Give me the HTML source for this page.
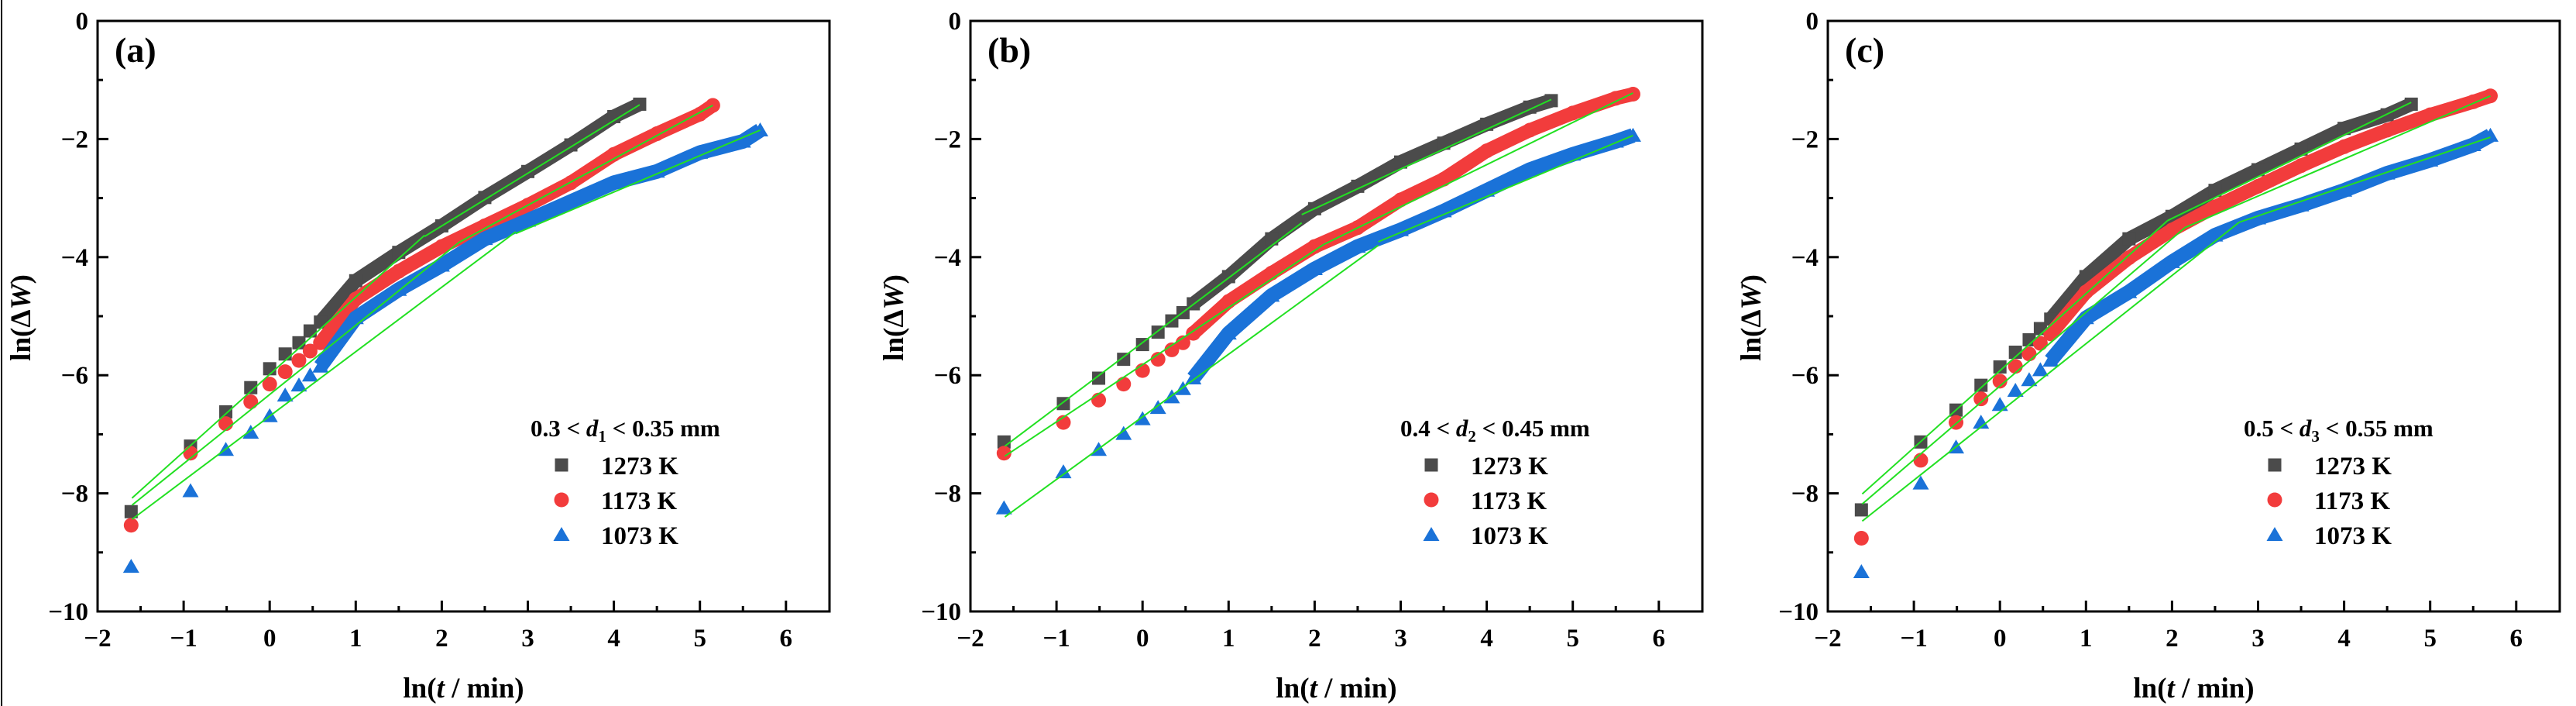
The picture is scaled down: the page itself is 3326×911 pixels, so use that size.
<!DOCTYPE html>
<html><head><meta charset="utf-8">
<style>
html,body{margin:0;padding:0;background:#fff;}
svg{display:block;font-family:"Liberation Serif",serif;font-weight:bold;}
</style></head>
<body>
<svg id="fig" width="3326" height="911" viewBox="0 0 3326 911" xmlns="http://www.w3.org/2000/svg">
<rect x="0" y="0" width="3326" height="911" fill="#fff"/>
<line x1="2" y1="0" x2="2" y2="911" stroke="#000" stroke-width="2"/>
</svg>
<script>
// ---- data ----
const panelLabels = ["(a)", "(b)", "(c)"];
const legendTitlesPre = ["0.3 < ", "0.4 < ", "0.5 < "];
const legendSubs = ["1", "2", "3"];
const legendTitlesPost = [" < 0.35 mm", " < 0.45 mm", " < 0.55 mm"];
const seriesNames = ["1273 K", "1173 K", "1073 K"];
const xTicks = [-2, -1, 0, 1, 2, 3, 4, 5, 6];
const yTicks = [0, -2, -4, -6, -8, -10];

// panel a
const a_x = [-1.61,-0.92,-0.51,-0.22,0,0.18,0.34,0.47,0.59,1,1.5,2,2.5,3,3.5,4,4.3];
const a_y1273 = [-8.31,-7.2,-6.62,-6.21,-5.89,-5.64,-5.45,-5.25,-5.1,-4.4,-3.92,-3.47,-2.99,-2.55,-2.1,-1.62,-1.41];
const a_x1173 = [-1.61,-0.92,-0.51,-0.22,0,0.18,0.34,0.47,0.59,1,1.5,2,2.5,3,3.5,4,4.5,5,5.15];
const a_y1173 = [-8.54,-7.32,-6.82,-6.45,-6.15,-5.94,-5.75,-5.59,-5.45,-4.71,-4.24,-3.82,-3.47,-3.12,-2.74,-2.26,-1.91,-1.58,-1.43];
const a_x1073 = [-1.61,-0.92,-0.51,-0.22,0,0.18,0.34,0.47,0.59,1,1.5,2,2.5,3,3.5,4,4.5,5,5.5,5.7];
const a_y1073 = [-9.24,-7.96,-7.26,-6.97,-6.69,-6.34,-6.17,-6.0,-5.85,-5.03,-4.55,-4.14,-3.69,-3.38,-3.06,-2.74,-2.55,-2.23,-2.04,-1.85];

// panel b
const b_x1273 = [-1.61,-0.92,-0.51,-0.22,0,0.18,0.34,0.47,0.59,1,1.5,2,2.5,3,3.5,4,4.5,4.75];
const b_y1273 = [-7.13,-6.48,-6.05,-5.73,-5.48,-5.27,-5.08,-4.94,-4.79,-4.33,-3.69,-3.18,-2.8,-2.39,-2.07,-1.75,-1.46,-1.35];
const b_x1173 = [-1.61,-0.92,-0.51,-0.22,0,0.18,0.34,0.47,0.59,1,1.5,2,2.5,3,3.5,4,4.5,5,5.5,5.7];
const b_y1173 = [-7.32,-6.8,-6.42,-6.15,-5.92,-5.73,-5.57,-5.45,-5.29,-4.75,-4.27,-3.82,-3.5,-3.03,-2.68,-2.2,-1.85,-1.56,-1.31,-1.24];
const b_x1073 = [-1.61,-0.92,-0.51,-0.22,0,0.18,0.34,0.47,0.59,1,1.5,2,2.5,3,3.5,4,4.5,5,5.5,5.7];
const b_y1073 = [-8.25,-7.64,-7.26,-6.99,-6.74,-6.55,-6.37,-6.23,-6.05,-5.29,-4.65,-4.2,-3.82,-3.54,-3.22,-2.87,-2.52,-2.26,-2.04,-1.94];

// panel c
const c_x1273 = [-1.61,-0.92,-0.51,-0.22,0,0.18,0.34,0.47,0.59,1,1.5,2,2.5,3,3.5,4,4.5,4.78];
const c_y1273 = [-8.28,-7.13,-6.59,-6.17,-5.86,-5.61,-5.4,-5.21,-5.05,-4.33,-3.69,-3.31,-2.87,-2.52,-2.17,-1.82,-1.59,-1.41];
const c_x1173 = [-1.61,-0.92,-0.51,-0.22,0,0.18,0.34,0.47,0.59,1,1.5,2,2.5,3,3.5,4,4.5,5,5.5,5.7];
const c_y1173 = [-8.76,-7.44,-6.8,-6.4,-6.1,-5.85,-5.64,-5.46,-5.3,-4.59,-4.01,-3.54,-3.15,-2.8,-2.45,-2.13,-1.85,-1.59,-1.37,-1.27];
const c_x1073 = [-1.61,-0.92,-0.51,-0.22,0,0.18,0.34,0.47,0.59,1,1.5,2,2.5,3,3.5,4,4.5,5,5.5,5.7];
const c_y1073 = [-9.33,-7.83,-7.22,-6.8,-6.5,-6.26,-6.08,-5.91,-5.75,-5.03,-4.59,-4.08,-3.63,-3.34,-3.12,-2.87,-2.58,-2.36,-2.1,-1.94];

// fit lines: [x1,y1,x2,y2] per segment
const a_fit1273 = [[-1.6,-8.08,1.8,-3.63],[1.8,-3.65,4.3,-1.42]];
const a_fit1173 = [[-1.6,-8.2,2.2,-3.75],[2.2,-3.75,5.15,-1.43]];
const a_fit1073 = [[-1.6,-8.44,2.86,-3.57],[2.86,-3.6,5.7,-1.85]];
const b_fit1273 = [[-1.6,-7.2,1.85,-3.42],[1.85,-3.28,4.75,-1.33]];
const b_fit1173 = [[-1.6,-7.37,2.1,-3.79],[2.1,-3.79,5.7,-1.22]];
const b_fit1073 = [[-1.6,-8.4,2.74,-3.8],[2.74,-3.74,5.7,-1.94]];
const c_fit1273 = [[-1.6,-8.01,1.95,-3.38],[1.95,-3.38,4.78,-1.38]];
const c_fit1173 = [[-1.6,-8.18,2.15,-3.5],[2.15,-3.5,5.7,-1.27]];
const c_fit1073 = [[-1.6,-8.47,2.78,-3.41],[2.78,-3.41,5.7,-1.97]];

// ---- layout ----
const panelLeft = [126, 1253, 2360];
const legendShift = [0, -4, -22];
const TOP = 27, BOTTOM = 789, WIDTH = 945;
const XPU = 111.1, YPU = (BOTTOM - TOP) / 10;
const BAND_START = 8;
const colors = ["#4b4b4b", "#f23c3c", "#1a72d8"];
const shapes = ["square", "circle", "triangle"];
const NS = "http://www.w3.org/2000/svg";
const svg = document.getElementById("fig");

function mk(tag, attrs, parent) {
  const e = document.createElementNS(NS, tag);
  for (const k in attrs) e.setAttribute(k, attrs[k]);
  (parent || svg).appendChild(e);
  return e;
}
function marker(shape, cx, cy, color, parent) {
  let e;
  if (shape === "square") e = mk("rect", {x: cx - 8.5, y: cy - 8.5, width: 17, height: 17, fill: color}, parent);
  else if (shape === "circle") e = mk("circle", {cx: cx, cy: cy, r: 9.5, fill: color}, parent);
  else e = mk("polygon", {points: `${cx},${cy - 10} ${cx + 10.5},${cy + 8} ${cx - 10.5},${cy + 8}`, fill: color}, parent);
  return e;
}

const panelData = [
  [[a_x, a_y1273, a_fit1273], [a_x1173, a_y1173, a_fit1173], [a_x1073, a_y1073, a_fit1073]],
  [[b_x1273, b_y1273, b_fit1273], [b_x1173, b_y1173, b_fit1173], [b_x1073, b_y1073, b_fit1073]],
  [[c_x1273, c_y1273, c_fit1273], [c_x1173, c_y1173, c_fit1173], [c_x1073, c_y1073, c_fit1073]]
];

panelData.forEach((series, p) => {
  const L = panelLeft[p];
  const sx = v => L + (v + 2) * XPU;
  const sy = v => TOP - v * YPU;
  const g = mk("g", {});
  
  

  series.forEach((s, i) => {
    const [xs, ys, fit] = s;
    const sg = mk("g", {}, g);
    
    
    let d = "";
    xs.forEach((x, k) => { if (k >= BAND_START) d += (d ? "L" : "M") + sx(x).toFixed(1) + "," + sy(ys[k]).toFixed(1); });
    const band = mk("path", {d: d, fill: "none", stroke: colors[i], "stroke-width": shapes[i] === "triangle" ? 19 : 18, "stroke-linejoin": "round", "stroke-linecap": shapes[i] === "circle" ? "round" : "butt"}, sg);
    
    
    xs.forEach((x, k) => {
      const m = marker(shapes[i], sx(x), sy(ys[k]), colors[i], sg);
      
      
    });
  });
  series.forEach((s, i) => {
    s[2].forEach(seg => {
      const ln = mk("line", {x1: sx(seg[0]), y1: sy(seg[1]), x2: sx(seg[2]), y2: sy(seg[3]), stroke: "#22e022", "stroke-width": 2}, g);
      
      
    });
  });

  const fr = mk("rect", {x: L, y: TOP, width: WIDTH, height: BOTTOM - TOP, fill: "none", stroke: "#000", "stroke-width": 3}, g);
  
  

  for (let v = -2; v <= 6.01; v += 0.5) {
    const major = Math.abs(v - Math.round(v)) < 1e-6;
    mk("line", {x1: sx(v), y1: BOTTOM, x2: sx(v), y2: BOTTOM - (major ? 14 : 7), stroke: "#000", "stroke-width": 3}, g);
  }
  xTicks.forEach(v => {
    const t = mk("text", {x: sx(v), y: 834, "font-size": 33, "text-anchor": "middle"}, g);
    t.textContent = (v < 0 ? "\u2212" : "") + Math.abs(v);
    
    
  });
  for (let v = 0; v >= -10; v -= 1) {
    const major = v % 2 === 0;
    mk("line", {x1: L, y1: sy(v), x2: L + (major ? 14 : 7), y2: sy(v), stroke: "#000", "stroke-width": 3}, g);
  }
  yTicks.forEach(v => {
    const t = mk("text", {x: L - 12, y: sy(v) + 11, "font-size": 33, "text-anchor": "end"}, g);
    t.textContent = (v < 0 ? "\u2212" : "") + Math.abs(v);
    
    
  });

  const xt = mk("text", {x: L + WIDTH / 2, y: 900, "font-size": 37, "text-anchor": "middle"}, g);
  xt.innerHTML = 'ln(<tspan font-style="italic">t</tspan> / min)';
  
  
  const yx = L - 87, yy = 410;
  const yt = mk("text", {x: yx, y: yy, "font-size": 37, "text-anchor": "middle", transform: `rotate(-90 ${yx} ${yy})`}, g);
  yt.innerHTML = 'ln(\u0394<tspan font-style="italic">W</tspan>)';
  
  

  const pl = mk("text", {x: L + 22, y: 80, "font-size": 46}, g);
  pl.textContent = panelLabels[p];
  
  

  const lg = mk("g", {}, g);
  
  
  const lx = L + 559 + legendShift[p];
  const lt = mk("text", {x: lx, y: 563, "font-size": 31}, lg);
  lt.innerHTML = legendTitlesPre[p] + '<tspan font-style="italic">d</tspan><tspan font-size="21" dy="7">' + legendSubs[p] + '</tspan><tspan dy="-7">' + legendTitlesPost[p] + '</tspan>';
  
  
  seriesNames.forEach((n, i) => {
    const cy = 600 + i * 45;
    const m = marker(shapes[i], lx + 40, cy, colors[i], lg);
    
    
    const t = mk("text", {x: lx + 91, y: cy + 12, "font-size": 33}, lg);
    t.textContent = n;
    
    
  });
});
</script>
</body></html>
